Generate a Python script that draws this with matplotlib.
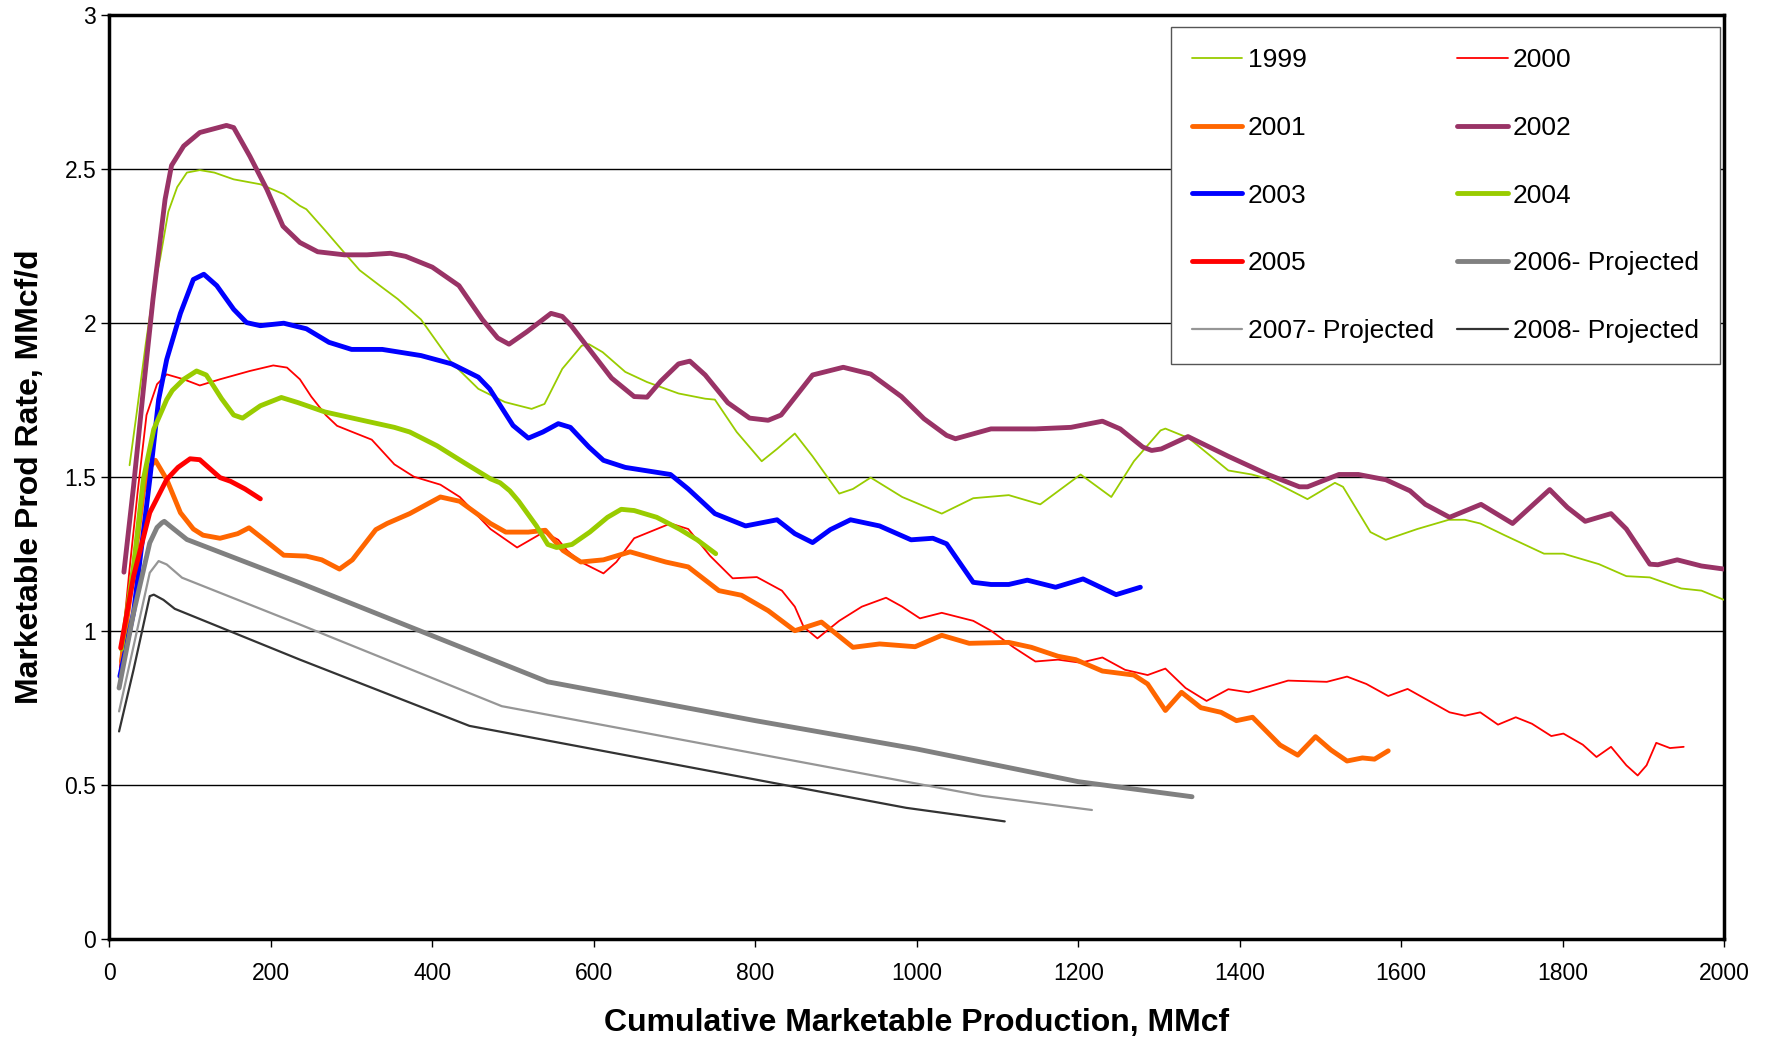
import matplotlib
matplotlib.use("Agg")
import matplotlib.pyplot as plt

plt.rcParams['font.family'] = ['Liberation Sans', 'DejaVu Sans']

# ---- data ----
x1999 = [25, 34, 45, 55, 63, 73, 84, 96, 112, 130, 154, 187, 216, 236, 244, 267, 290, 310, 335, 357,
         386, 424, 457, 490, 523, 539, 561, 585, 594, 611, 639, 666, 705, 738, 750, 777, 808, 827, 849, 871,
         904, 921, 943, 982, 1031, 1070, 1114, 1153, 1203, 1241, 1269, 1302, 1308, 1337, 1386, 1415, 1435,
         1484, 1518, 1528, 1562, 1581, 1620, 1659, 1679, 1698, 1728, 1777, 1801, 1845, 1879, 1908, 1947, 1972, 2000]
y1999 = [1.537, 1.71, 1.93, 2.11, 2.21, 2.36, 2.44, 2.487, 2.495, 2.487, 2.465, 2.449, 2.417, 2.379, 2.368,
         2.30, 2.23, 2.17, 2.12, 2.077, 2.01, 1.87, 1.785, 1.742, 1.72, 1.736, 1.85, 1.925, 1.93, 1.904, 1.84,
         1.807, 1.77, 1.753, 1.75, 1.645, 1.55, 1.59, 1.64, 1.566, 1.445, 1.46, 1.497, 1.434, 1.38, 1.43, 1.44,
         1.41, 1.507, 1.434, 1.55, 1.65, 1.656, 1.625, 1.52, 1.507, 1.493, 1.427, 1.48, 1.467, 1.32, 1.295,
         1.33, 1.36, 1.36, 1.348, 1.31, 1.25, 1.25, 1.216, 1.177, 1.173, 1.137, 1.13, 1.10]

x2000 = [13, 25, 35, 46, 59, 71, 92, 112, 137, 174, 203, 220, 236, 250, 268, 282, 301, 325, 353, 377,
         410, 434, 472, 505, 538, 556, 567, 584, 612, 628, 650, 695, 717, 744, 772, 802, 833, 849, 860, 877,
         904, 932, 962, 982, 1004, 1031, 1070, 1092, 1120, 1147, 1175, 1203, 1230, 1258, 1286, 1308, 1333,
         1359, 1386, 1411, 1460, 1508, 1533, 1557, 1584, 1608, 1660, 1679, 1698, 1720, 1742, 1762, 1786,
         1801, 1825, 1842, 1860, 1879, 1893, 1904, 1916, 1933, 1950]
y2000 = [0.88, 1.2, 1.45, 1.70, 1.80, 1.832, 1.816, 1.796, 1.816, 1.843, 1.861, 1.854, 1.816, 1.76, 1.70,
         1.665, 1.645, 1.62, 1.54, 1.50, 1.474, 1.434, 1.33, 1.27, 1.32, 1.295, 1.26, 1.223, 1.186, 1.223,
         1.30, 1.348, 1.33, 1.243, 1.17, 1.174, 1.13, 1.078, 1.012, 0.975, 1.032, 1.078, 1.107, 1.078, 1.04,
         1.058, 1.032, 1.0, 0.946, 0.90, 0.906, 0.896, 0.913, 0.873, 0.856, 0.877, 0.814, 0.772, 0.81, 0.80,
         0.838, 0.834, 0.851, 0.827, 0.788, 0.811, 0.735, 0.724, 0.735, 0.695, 0.719, 0.698, 0.658, 0.666,
         0.63, 0.59, 0.623, 0.563, 0.53, 0.563, 0.636, 0.619, 0.623]

x2001 = [15, 30, 42, 50, 57, 71, 88, 104, 116, 137, 159, 173, 192, 216, 244, 263, 285, 301, 330, 344,
         372, 410, 434, 472, 491, 519, 540, 562, 584, 612, 645, 689, 717, 755, 783, 816, 849, 882, 921, 954,
         998, 1031, 1065, 1114, 1142, 1175, 1197, 1230, 1269, 1286, 1308, 1328, 1352, 1377, 1396, 1416,
         1450, 1472, 1494, 1513, 1533, 1552, 1567, 1584]
y2001 = [0.9, 1.2, 1.45, 1.53, 1.553, 1.491, 1.383, 1.33, 1.31, 1.30, 1.315, 1.334, 1.295, 1.245, 1.242,
         1.23, 1.20, 1.23, 1.328, 1.348, 1.38, 1.434, 1.42, 1.348, 1.32, 1.32, 1.326, 1.26, 1.223, 1.23,
         1.256, 1.223, 1.207, 1.13, 1.115, 1.065, 1.0, 1.028, 0.946, 0.957, 0.948, 0.985, 0.959, 0.962,
         0.946, 0.917, 0.906, 0.869, 0.856, 0.827, 0.741, 0.80, 0.75, 0.735, 0.708, 0.719, 0.629, 0.596,
         0.656, 0.613, 0.577, 0.587, 0.583, 0.61]

x2002 = [18, 30, 42, 54, 69, 77, 92, 112, 145, 154, 174, 195, 215, 236, 258, 291, 319, 348, 367, 400,
         433, 462, 481, 495, 517, 547, 561, 572, 594, 622, 650, 666, 683, 705, 719, 738, 766, 793, 816, 832,
         871, 909, 943, 981, 1009, 1037, 1048, 1092, 1147, 1191, 1230, 1252, 1280, 1291, 1303, 1336, 1386,
         1435, 1474, 1484, 1523, 1547, 1581, 1611, 1630, 1660, 1699, 1738, 1784, 1806, 1828, 1860, 1879,
         1908, 1918, 1942, 1972, 2000]
y2002 = [1.19, 1.47, 1.78, 2.076, 2.40, 2.51, 2.573, 2.617, 2.64, 2.633, 2.54, 2.433, 2.313, 2.26, 2.23,
         2.22, 2.22, 2.225, 2.215, 2.18, 2.12, 2.01, 1.95, 1.93, 1.97, 2.03, 2.02, 1.99, 1.915, 1.82, 1.76,
         1.758, 1.81, 1.866, 1.875, 1.83, 1.74, 1.69, 1.683, 1.70, 1.83, 1.855, 1.833, 1.76, 1.688, 1.634,
         1.623, 1.655, 1.655, 1.66, 1.68, 1.655, 1.596, 1.585, 1.59, 1.63, 1.566, 1.507, 1.467, 1.467,
         1.507, 1.507, 1.49, 1.454, 1.41, 1.368, 1.41, 1.348, 1.458, 1.40, 1.355, 1.38, 1.33, 1.216, 1.214,
         1.23, 1.21, 1.20]

x2003 = [13, 30, 50, 61, 71, 88, 104, 117, 133, 154, 170, 187, 216, 244, 272, 300, 338, 386, 424, 457,
         471, 500, 519, 537, 556, 571, 594, 612, 639, 695, 717, 750, 788, 827, 849, 871, 893, 918, 954, 993,
         1020, 1037, 1070, 1092, 1114, 1137, 1172, 1206, 1247, 1277]
y2003 = [0.852, 1.06, 1.49, 1.75, 1.88, 2.03, 2.14, 2.157, 2.12, 2.043, 2.0, 1.99, 1.998, 1.98, 1.936,
         1.913, 1.913, 1.893, 1.866, 1.823, 1.785, 1.666, 1.625, 1.645, 1.672, 1.66, 1.596, 1.553, 1.53,
         1.507, 1.46, 1.38, 1.34, 1.36, 1.315, 1.286, 1.328, 1.36, 1.34, 1.295, 1.30, 1.282, 1.157, 1.15,
         1.15, 1.164, 1.141, 1.168, 1.117, 1.141]

x2004 = [15, 30, 42, 55, 71, 78, 92, 108, 120, 129, 139, 154, 165, 187, 213, 234, 267, 315, 353, 372,
         406, 439, 472, 484, 496, 507, 529, 543, 554, 573, 595, 617, 634, 650, 678, 706, 728, 751]
y2004 = [0.94, 1.21, 1.49, 1.654, 1.75, 1.78, 1.816, 1.843, 1.83, 1.794, 1.753, 1.70, 1.69, 1.73, 1.757,
         1.74, 1.71, 1.682, 1.66, 1.645, 1.60, 1.546, 1.493, 1.48, 1.454, 1.42, 1.34, 1.28, 1.27, 1.28,
         1.32, 1.368, 1.394, 1.39, 1.368, 1.33, 1.295, 1.25]

x2005 = [14, 30, 50, 71, 85, 100, 112, 121, 137, 150, 168, 187]
y2005 = [0.944, 1.177, 1.383, 1.491, 1.53, 1.558, 1.555, 1.534, 1.497, 1.485, 1.46, 1.428]

x2006 = [12, 30, 50, 59, 65, 68, 75, 96, 236, 543, 800, 1000, 1200, 1341]
y2006 = [0.814, 1.058, 1.285, 1.335, 1.35, 1.355, 1.34, 1.296, 1.155, 0.834, 0.708, 0.616, 0.51, 0.461]

x2007 = [12, 30, 50, 61, 71, 90, 236, 486, 1081, 1217]
y2007 = [0.738, 0.95, 1.188, 1.226, 1.215, 1.172, 1.02, 0.755, 0.464, 0.418]

x2008 = [12, 30, 50, 55, 67, 81, 236, 446, 987, 1109]
y2008 = [0.673, 0.874, 1.112, 1.117, 1.10, 1.071, 0.906, 0.691, 0.425, 0.381]

labels = ["1999", "2000", "2001", "2002", "2003", "2004", "2005",
          "2006- Projected", "2007- Projected", "2008- Projected"]
colors = ["#99CC00", "#FF0000", "#FF6600", "#993366", "#0000FF", "#99CC00", "#FF0000",
          "#808080", "#969696", "#333333"]
widths = [1.3, 1.3, 3.5, 3.5, 3.5, 3.5, 3.5, 3.5, 1.6, 1.6]

xs = [x1999, x2000, x2001, x2002, x2003, x2004, x2005, x2006, x2007, x2008]
ys = [y1999, y2000, y2001, y2002, y2003, y2004, y2005, y2006, y2007, y2008]

x_ticks = [0, 200, 400, 600, 800, 1000, 1200, 1400, 1600, 1800, 2000]
y_ticks = [0, 0.5, 1, 1.5, 2, 2.5, 3]
y_ticklabels = ["0", "0.5", "1", "1.5", "2", "2.5", "3"]

# ---- figure ----
fig = plt.figure(figsize=(17.67, 10.38), dpi=100)
ax = fig.add_axes([0.0619, 0.0956, 0.9138, 0.8904])

handles = {}
for x, y, lab, c, w in zip(xs, ys, labels, colors, widths):
    h, = ax.plot(x, y, color=c, lw=w, solid_joinstyle='round', solid_capstyle='round', zorder=3)
    handles[lab] = h

ax.set_xlim(0, 2000)
ax.set_ylim(0, 3)
ax.set_xticks(x_ticks)
ax.set_xticklabels([str(t) for t in x_ticks])
ax.set_yticks(y_ticks)
ax.set_yticklabels(y_ticklabels)
ax.tick_params(axis='both', labelsize=16.5, direction='out', length=6, width=1, colors='black')
ax.tick_params(axis='x', pad=10.5)
ax.tick_params(axis='y', pad=3.5)

ax.yaxis.grid(True, color='black', lw=1.0)
ax.set_axisbelow(True)
for s in ax.spines.values():
    s.set_linewidth(2.5)
    s.set_color('black')

ax.set_xlabel("Cumulative Marketable Production, MMcf", fontsize=23, fontweight='bold', labelpad=17)
ax.set_ylabel("Marketable Prod Rate, MMcf/d", fontsize=23, fontweight='bold', labelpad=14)

order = ["1999", "2001", "2003", "2005", "2007- Projected",
         "2000", "2002", "2004", "2006- Projected", "2008- Projected"]
leg = ax.legend([handles[k] for k in order], order, ncol=2, loc='upper right',
                bbox_to_anchor=(0.9975, 0.9866), borderaxespad=0, fontsize=19,
                frameon=True, fancybox=False, edgecolor='#555555', framealpha=1,
                handlelength=1.9, handletextpad=0.2, columnspacing=0.9,
                labelspacing=1.66, borderpad=0.8)
leg.get_frame().set_linewidth(1.0)

fig.savefig("out.png", dpi=100)
